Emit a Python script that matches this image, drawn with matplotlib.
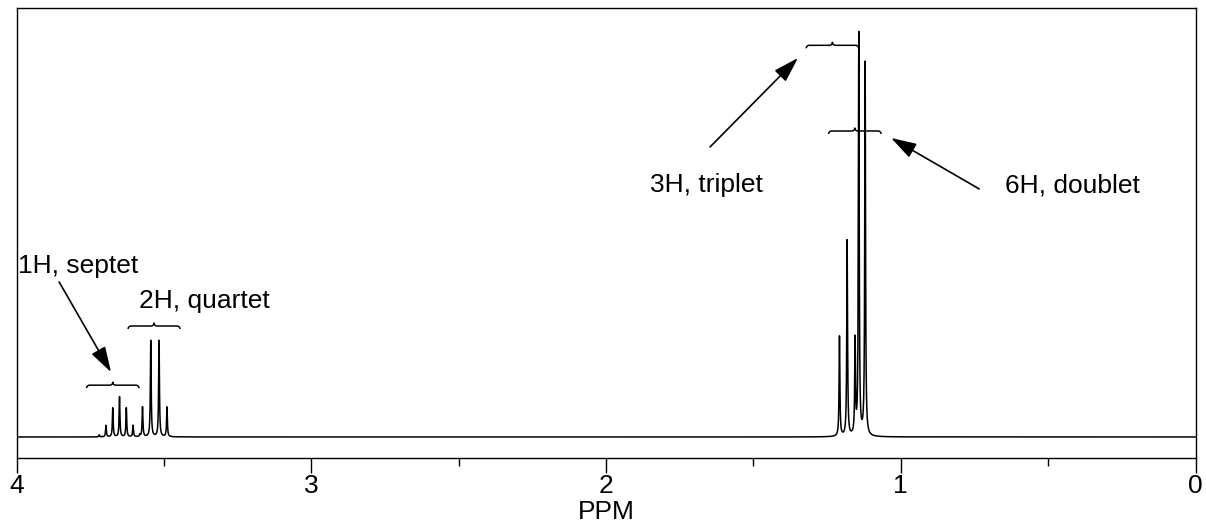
import numpy as np
import matplotlib
matplotlib.use("Agg")
import matplotlib.pyplot as plt
from matplotlib.ticker import MultipleLocator

plt.rcParams['font.family'] = ['Liberation Sans', 'DejaVu Sans']

# ---- data (ppm positions and relative intensities) ----
septet_ppm = [3.720, 3.697, 3.674, 3.651, 3.628, 3.605, 3.582]
septet_int = [0.005, 0.028, 0.071, 0.098, 0.071, 0.028, 0.005]
quartet_ppm = [3.573, 3.545, 3.517, 3.490]
quartet_int = [0.073, 0.236, 0.236, 0.073]
triplet_ppm = [1.208, 1.182, 1.155]
triplet_int = [0.245, 0.480, 0.230]
doublet_ppm = [1.1425, 1.121]
doublet_int = [0.985, 0.915]
linewidth_ppm = 0.0016

labels = ["1H, septet", "2H, quartet", "3H, triplet", "6H, doublet"]
label_xy = [(3.792, 0.402), (3.364, 0.316), (1.659, 0.600), (0.417, 0.600)]
arrow_tail = [(3.856, 0.380), (1.647, 0.711), (0.734, 0.608)]
arrow_tip = [(3.680, 0.159), (1.349, 0.929), (1.033, 0.733)]
# brace: (left ppm, right ppm, height)
braces = [(3.763, 3.585, 0.127), (3.622, 3.446, 0.272),
          (1.321, 1.143, 0.960), (1.245, 1.067, 0.750)]

xmin, xmax = 0.0, 4.0
ymin, ymax = -0.0515, 1.0522

# ---- build spectrum ----
ppm = np.linspace(xmin, xmax, 60001)
spec = np.zeros_like(ppm)
for pos, amp in zip(septet_ppm + quartet_ppm + triplet_ppm + doublet_ppm,
                    septet_int + quartet_int + triplet_int + doublet_int):
    spec += amp / (1.0 + ((ppm - pos) / linewidth_ppm) ** 2)

W, H = 1206, 524
fig = plt.figure(figsize=(W / 100, H / 100), dpi=100)
ax_l, ax_r, ax_b, ax_t = 16.7 / W, 1195.5 / W, (H - 458) / H, (H - 7.7) / H
ax = fig.add_axes([ax_l, ax_b, ax_r - ax_l, ax_t - ax_b])

ax.plot(ppm, spec, color='black', lw=1.1)
ax.set_xlim(xmax, xmin)
ax.set_ylim(ymin, ymax)
ax.set_yticks([])
ax.xaxis.set_major_locator(MultipleLocator(1))
ax.xaxis.set_minor_locator(MultipleLocator(0.5))
ax.tick_params(axis='x', which='major', direction='out', length=10.8, width=1,
               labelsize=19, pad=1.0)
ax.tick_params(axis='x', which='minor', direction='out', length=6.0, width=1)
ax.set_xlabel("PPM", fontsize=19, labelpad=1)
for s in ax.spines.values():
    s.set_linewidth(1)

# pixel scale for braces
ax_w_px = (ax_r - ax_l) * W
ax_h_px = (ax_t - ax_b) * H
sx = (xmax - xmin) / ax_w_px
sy = (ymax - ymin) / ax_h_px


def brace(x_left, x_right, y, r=3.0):
    w = (x_left - x_right) / sx  # width in px
    pts = []
    t = np.linspace(np.pi, np.pi / 2, 12)
    pts += list(zip(r + r * np.cos(t), -r + r * np.sin(t)))
    t = np.linspace(-np.pi / 2, 0, 12)
    pts += list(zip(w / 2 - r + r * np.cos(t), r + r * np.sin(t)))
    t = np.linspace(np.pi, 3 * np.pi / 2, 12)
    pts += list(zip(w / 2 + r + r * np.cos(t), r + r * np.sin(t)))
    t = np.linspace(np.pi / 2, 0, 12)
    pts += list(zip(w - r + r * np.cos(t), -r + r * np.sin(t)))
    pts = np.array(pts)
    xs = x_left - pts[:, 0] * sx
    ys = y + pts[:, 1] * sy
    ax.plot(xs, ys, color='black', lw=1.1, solid_capstyle='butt')


for xl, xr, yb in braces:
    brace(xl, xr, yb)

for txt, (tx, ty) in zip(labels, label_xy):
    ax.text(tx, ty, txt, fontsize=19, ha='center', va='baseline')

for tail, tip in zip(arrow_tail, arrow_tip):
    ax.annotate("", xy=tip, xytext=tail,
                arrowprops=dict(arrowstyle="-|>,head_length=1.3,head_width=0.4",
                                color='black', lw=1.2, shrinkA=0, shrinkB=0,
                                mutation_scale=12))

fig.savefig("out.png", dpi=100)
